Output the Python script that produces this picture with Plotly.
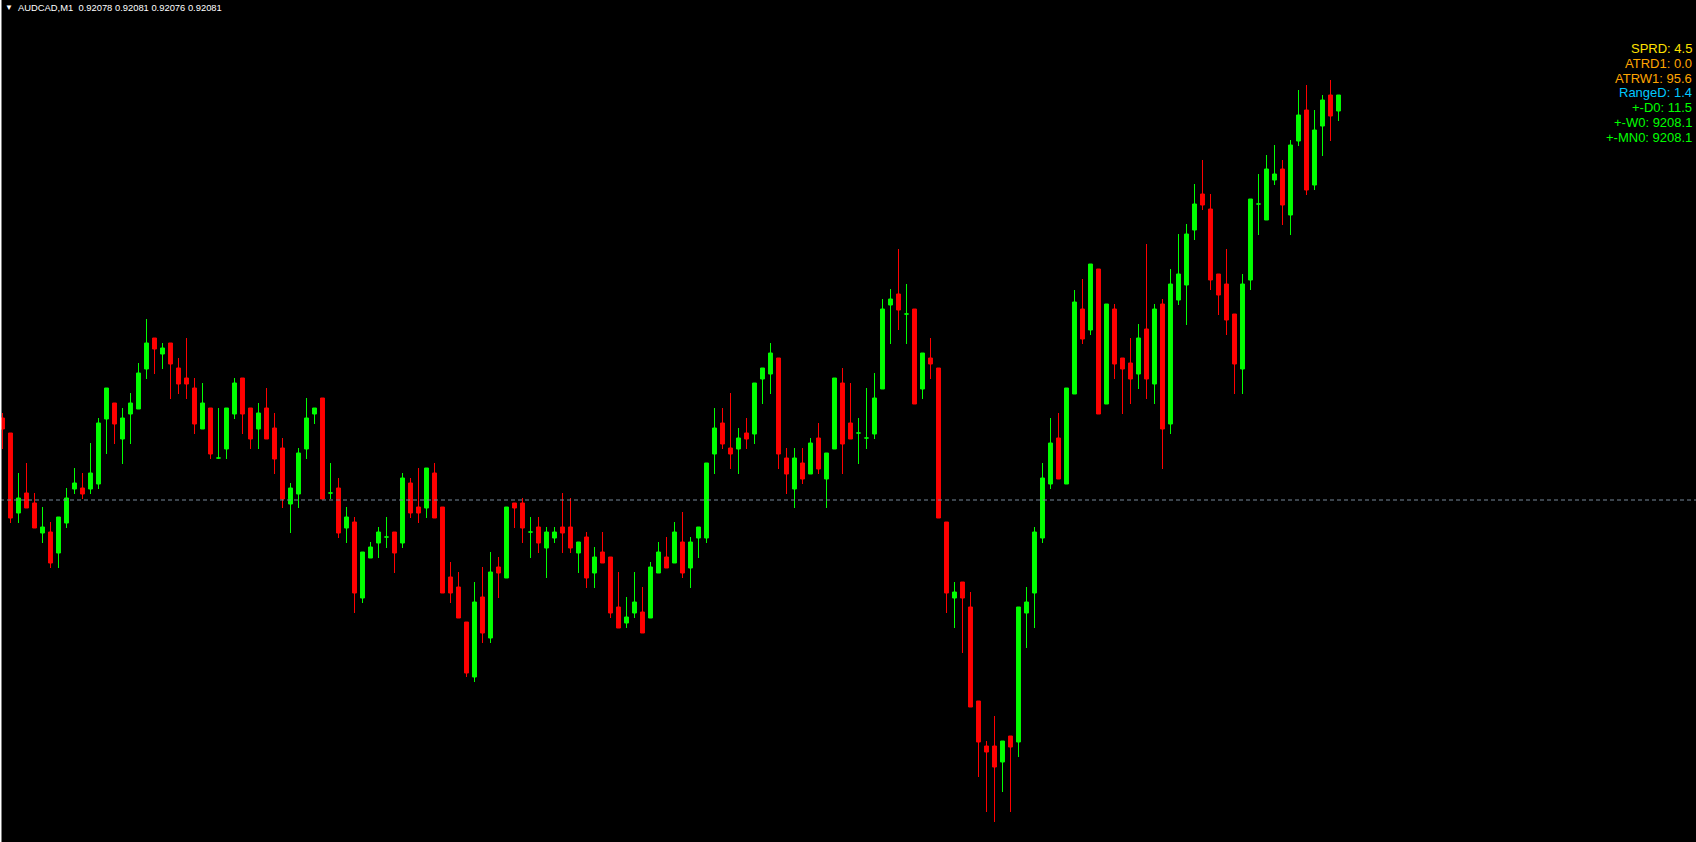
import plotly.graph_objects as go

# ---------------- data ----------------
symbol = "AUDCAD,M1"
header_ohlc = ["0.92078", "0.92081", "0.92076", "0.92081"]

opens = [
    0.920164, 0.920134, 0.919974, 0.920014, 0.919994, 0.919934, 0.919936, 0.919894, 0.919954, 0.920022,
    0.920024, 0.920022, 0.920032, 0.920162, 0.920194, 0.920122, 0.920172, 0.920182, 0.920262, 0.920324,
    0.920292, 0.920314, 0.920264, 0.920244, 0.920224, 0.920142, 0.920184, 0.920084, 0.920102, 0.920172,
    0.920244, 0.920184, 0.920142, 0.920184, 0.920144, 0.920104, 0.919992, 0.920012, 0.920102, 0.920172,
    0.920204, 0.920014, 0.920024, 0.919944, 0.919956, 0.919804, 0.919884, 0.919914, 0.919926, 0.919936,
    0.919914, 0.920034, 0.919986, 0.919984, 0.920054, 0.919986, 0.919846, 0.919826, 0.919756, 0.919646,
    0.919806, 0.919724, 0.919866, 0.919844, 0.919994, 0.919994, 0.919936, 0.919946, 0.919904, 0.919924,
    0.919946, 0.919946, 0.919894, 0.919926, 0.919854, 0.919896, 0.919886, 0.919786, 0.919754, 0.919774,
    0.919776, 0.919764, 0.919854, 0.919886, 0.919874, 0.919916, 0.919864, 0.919924, 0.919924, 0.920092,
    0.920154, 0.920104, 0.920102, 0.920134, 0.920132, 0.920242, 0.920252, 0.920284, 0.920084, 0.920022,
    0.920074, 0.920052, 0.920124, 0.920042, 0.920102, 0.920234, 0.920154, 0.920134, 0.920124, 0.920132,
    0.920222, 0.920390, 0.920412, 0.920372, 0.920382, 0.920222, 0.920284, 0.920264, 0.919956, 0.919804,
    0.919836, 0.919786, 0.919598, 0.919508, 0.919508, 0.919476, 0.919528, 0.919516, 0.919774, 0.919814,
    0.919924, 0.920032, 0.920124, 0.920032, 0.920212, 0.920382, 0.920340, 0.920462, 0.920192, 0.920382,
    0.920284, 0.920274, 0.920252, 0.920342, 0.920232, 0.920392, 0.920152, 0.920400, 0.920430, 0.920540,
    0.920612, 0.920582, 0.920452, 0.920432, 0.920372, 0.920262, 0.920440, 0.920592, 0.920560, 0.920640,
    0.920662, 0.920570, 0.920718, 0.920780, 0.920630, 0.920748, 0.920810, 0.920778,
]
highs = [
    0.920174, 0.920134, 0.920054, 0.920074, 0.920014, 0.919986, 0.919956, 0.919966, 0.920024, 0.920064,
    0.920054, 0.920114, 0.920164, 0.920224, 0.920194, 0.920184, 0.920214, 0.920274, 0.920362, 0.920324,
    0.920314, 0.920314, 0.920284, 0.920324, 0.920244, 0.920234, 0.920184, 0.920184, 0.920184, 0.920244,
    0.920244, 0.920184, 0.920194, 0.920224, 0.920174, 0.920124, 0.920034, 0.920104, 0.920204, 0.920184,
    0.920204, 0.920074, 0.920044, 0.919986, 0.919966, 0.919896, 0.919916, 0.919946, 0.919966, 0.919936,
    0.920054, 0.920044, 0.920064, 0.920064, 0.920074, 0.919986, 0.919876, 0.919856, 0.919756, 0.919836,
    0.919866, 0.919896, 0.919886, 0.919986, 0.919994, 0.920004, 0.919966, 0.919966, 0.919946, 0.919946,
    0.920014, 0.920004, 0.919916, 0.919936, 0.919906, 0.919936, 0.919886, 0.919856, 0.919806, 0.919856,
    0.919826, 0.919876, 0.919916, 0.919926, 0.919956, 0.919976, 0.919926, 0.919946, 0.920074, 0.920184,
    0.920184, 0.920214, 0.920144, 0.920164, 0.920234, 0.920264, 0.920314, 0.920284, 0.920104, 0.920104,
    0.920104, 0.920124, 0.920154, 0.920094, 0.920244, 0.920264, 0.920234, 0.920164, 0.920224, 0.920254,
    0.920402, 0.920422, 0.920502, 0.920432, 0.920382, 0.920294, 0.920324, 0.920264, 0.919956, 0.919836,
    0.919836, 0.919816, 0.919598, 0.919518, 0.919568, 0.919518, 0.919528, 0.919786, 0.919826, 0.919946,
    0.920074, 0.920164, 0.920174, 0.920224, 0.920420, 0.920442, 0.920472, 0.920462, 0.920392, 0.920392,
    0.920284, 0.920324, 0.920352, 0.920512, 0.920392, 0.920402, 0.920462, 0.920532, 0.920552, 0.920632,
    0.920680, 0.920612, 0.920452, 0.920502, 0.920372, 0.920452, 0.920602, 0.920652, 0.920690, 0.920710,
    0.920680, 0.920720, 0.920820, 0.920830, 0.920780, 0.920810, 0.920840, 0.920810,
]
lows = [
    0.920102, 0.919954, 0.919954, 0.919984, 0.919944, 0.919914, 0.919864, 0.919864, 0.919944, 0.920012,
    0.920002, 0.920012, 0.920022, 0.920092, 0.920112, 0.920072, 0.920112, 0.920182, 0.920242, 0.920252,
    0.920262, 0.920202, 0.920212, 0.920202, 0.920132, 0.920142, 0.920082, 0.920082, 0.920082, 0.920162,
    0.920132, 0.920102, 0.920102, 0.920122, 0.920052, 0.919984, 0.919934, 0.919984, 0.920082, 0.920152,
    0.920002, 0.920002, 0.919924, 0.919914, 0.919774, 0.919794, 0.919884, 0.919884, 0.919904, 0.919854,
    0.919904, 0.919964, 0.919954, 0.919964, 0.919964, 0.919814, 0.919794, 0.919764, 0.919646, 0.919636,
    0.919714, 0.919714, 0.919804, 0.919844, 0.919944, 0.919914, 0.919884, 0.919894, 0.919844, 0.919914,
    0.919894, 0.919894, 0.919854, 0.919824, 0.919824, 0.919874, 0.919764, 0.919744, 0.919744, 0.919764,
    0.919734, 0.919764, 0.919854, 0.919864, 0.919874, 0.919844, 0.919824, 0.919884, 0.919914, 0.920052,
    0.920102, 0.920062, 0.920052, 0.920102, 0.920112, 0.920192, 0.920212, 0.920062, 0.920012, 0.919984,
    0.920032, 0.920052, 0.920052, 0.919984, 0.920102, 0.920052, 0.920122, 0.920072, 0.920102, 0.920122,
    0.920222, 0.920312, 0.920340, 0.920312, 0.920192, 0.920202, 0.920242, 0.919964, 0.919774, 0.919744,
    0.919694, 0.919586, 0.919446, 0.919376, 0.919356, 0.919416, 0.919376, 0.919486, 0.919704, 0.919744,
    0.919914, 0.920022, 0.920042, 0.920032, 0.920212, 0.920312, 0.920330, 0.920172, 0.920192, 0.920242,
    0.920172, 0.920192, 0.920222, 0.920202, 0.920192, 0.920062, 0.920132, 0.920390, 0.920350, 0.920520,
    0.920580, 0.920420, 0.920370, 0.920330, 0.920212, 0.920212, 0.920420, 0.920530, 0.920560, 0.920630,
    0.920550, 0.920530, 0.920708, 0.920610, 0.920620, 0.920688, 0.920718, 0.920758,
]
closes = [
    0.920142, 0.919964, 0.920004, 0.919984, 0.919944, 0.919946, 0.919874, 0.919966, 0.920004, 0.920034,
    0.920012, 0.920054, 0.920154, 0.920224, 0.920152, 0.920164, 0.920194, 0.920254, 0.920314, 0.920302,
    0.920304, 0.920272, 0.920232, 0.920232, 0.920152, 0.920194, 0.920092, 0.920084, 0.920184, 0.920234,
    0.920172, 0.920122, 0.920174, 0.920122, 0.920082, 0.920002, 0.920024, 0.920094, 0.920164, 0.920184,
    0.920002, 0.920014, 0.919934, 0.919966, 0.919814, 0.919896, 0.919906, 0.919936, 0.919926, 0.919894,
    0.920044, 0.919974, 0.919974, 0.920064, 0.919964, 0.919814, 0.919814, 0.919764, 0.919654, 0.919796,
    0.919734, 0.919856, 0.919854, 0.919986, 0.919984, 0.919944, 0.919936, 0.919914, 0.919936, 0.919936,
    0.919934, 0.919904, 0.919916, 0.919844, 0.919886, 0.919874, 0.919774, 0.919744, 0.919766, 0.919796,
    0.919734, 0.919866, 0.919896, 0.919864, 0.919936, 0.919854, 0.919916, 0.919946, 0.920074, 0.920144,
    0.920112, 0.920092, 0.920124, 0.920122, 0.920234, 0.920264, 0.920294, 0.920092, 0.920052, 0.920084,
    0.920042, 0.920114, 0.920062, 0.920094, 0.920244, 0.920112, 0.920122, 0.920134, 0.920124, 0.920204,
    0.920382, 0.920402, 0.920380, 0.920372, 0.920192, 0.920294, 0.920272, 0.919964, 0.919814, 0.919816,
    0.919804, 0.919586, 0.919516, 0.919496, 0.919466, 0.919518, 0.919506, 0.919786, 0.919796, 0.919936,
    0.920044, 0.920114, 0.920042, 0.920224, 0.920396, 0.920322, 0.920472, 0.920172, 0.920392, 0.920272,
    0.920262, 0.920242, 0.920324, 0.920242, 0.920382, 0.920142, 0.920432, 0.920452, 0.920532, 0.920592,
    0.920590, 0.920440, 0.920410, 0.920360, 0.920272, 0.920432, 0.920602, 0.920592, 0.920662, 0.920652,
    0.920590, 0.920710, 0.920770, 0.920620, 0.920740, 0.920800, 0.920768, 0.920810,
]

level_price = 0.92000

info_labels = ["SPRD", "ATRD1", "ATRW1", "RangeD", "+-D0", "+-W0", "+-MN0"]
info_values = ["4.5", "0.0", "95.6", "1.4", "11.5", "9208.1", "9208.1"]
info_colors = ["#FFE000", "#FFA500", "#FFA500", "#00C8FF", "#00FF00", "#00FF00", "#00FF00"]

# ---------------- styling / layout constants ----------------
W, H = 1696, 842
BAR_PX = 8.0          # horizontal spacing of candles in pixels
FIRST_PX = 2.5        # pixel centre of first candle
PX_PER_UNIT = 500000  # vertical pixels per price unit (5 px per point)
Y_TOP = 0.921
UP_COL = "#00FF00"
DN_COL = "#FF0000"

idx = list(range(len(opens)))
up = [i for i in idx if closes[i] >= opens[i]]
dn = [i for i in idx if closes[i] < opens[i]]


def pick(arr, ids):
    return [arr[i] for i in ids]


fig = go.Figure()
for ids, col in ((up, UP_COL), (dn, DN_COL)):
    fig.add_trace(go.Candlestick(
        x=ids,
        open=pick(opens, ids), high=pick(highs, ids),
        low=pick(lows, ids), close=pick(closes, ids),
        increasing=dict(line=dict(color=col, width=1), fillcolor=col),
        decreasing=dict(line=dict(color=col, width=1), fillcolor=col),
        whiskerwidth=0,
        hoverinfo="skip",
        showlegend=False,
    ))

x0 = -FIRST_PX / BAR_PX
fig.update_layout(
    width=W, height=H,
    margin=dict(l=0, r=0, t=0, b=0),
    paper_bgcolor="#000000", plot_bgcolor="#000000",
    showlegend=False,
    xaxis=dict(range=[x0, x0 + W / BAR_PX], visible=False, showgrid=False,
               zeroline=False, rangeslider=dict(visible=False), fixedrange=True),
    yaxis=dict(range=[Y_TOP - H / PX_PER_UNIT, Y_TOP], visible=False, showgrid=False,
               zeroline=False, fixedrange=True),
    font=dict(family="Liberation Sans, Arial, sans-serif"),
)

# dashed horizontal level
fig.add_shape(type="line", xref="paper", yref="y", x0=0, x1=1,
              y0=level_price, y1=level_price,
              line=dict(color="#778899", width=1, dash="4px,3px"), layer="above")
# left white border line
fig.add_shape(type="line", xref="paper", yref="paper", x0=0, x1=0, y0=0, y1=1,
              line=dict(color="#FFFFFF", width=3), layer="above")

# header
fig.add_annotation(xref="paper", yref="paper", x=3 / W, y=1 - 7 / H,
                   xanchor="left", yanchor="middle", showarrow=False,
                   text="\u25BC", font=dict(color="#FFFFFF", size=8))
fig.add_annotation(xref="paper", yref="paper", x=16 / W, y=1 - 7.5 / H,
                   xanchor="left", yanchor="middle", showarrow=False,
                   text=symbol + "\u00a0\u00a0" + " ".join(header_ohlc),
                   font=dict(color="#FFFFFF", size=9.4,
                             family="Liberation Sans, Arial, sans-serif"))

# info block top-right
for i, (lab, val, col) in enumerate(zip(info_labels, info_values, info_colors)):
    ypx = 48.5 + i * 14.8
    fig.add_annotation(xref="paper", yref="paper", x=1 - 2 / W, y=1 - ypx / H,
                       xanchor="right", yanchor="middle", showarrow=False,
                       text=f"{lab}: {val}",
                       font=dict(color=col, size=13,
                                 family="Liberation Sans, Arial, sans-serif"))

fig.write_html("out.html", config={"displayModeBar": False, "staticPlot": True},
               post_script="document.body.style.margin='0';"
                           "document.body.style.overflow='hidden';"
                           "document.body.style.background='#000';")
